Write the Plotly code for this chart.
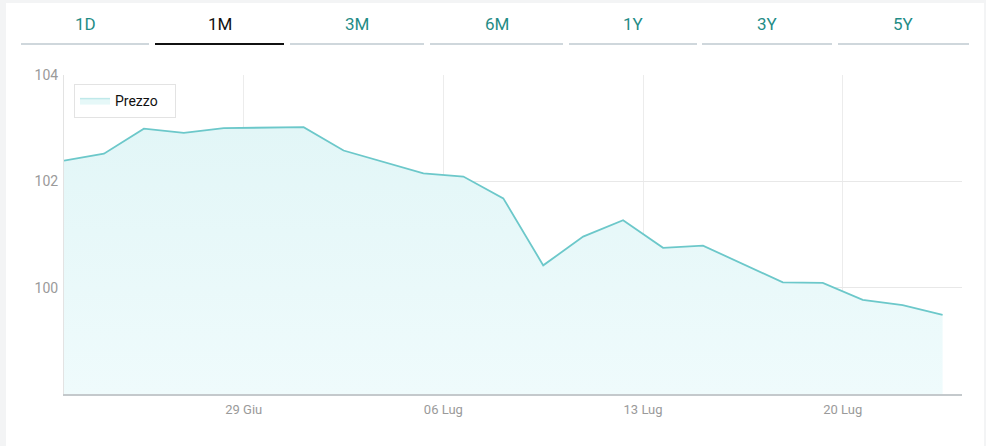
import plotly.graph_objects as go
import pandas as pd

# ---- data ----
dates = pd.bdate_range("2020-06-22", "2020-07-22") + pd.Timedelta(hours=12)
prices = [102.39, 102.52, 102.99, 102.91, 103.00, 103.01, 103.02, 102.58, 102.37,
          102.15, 102.09, 101.68, 100.42, 100.96, 101.27, 100.75, 100.79, 100.45,
          100.10, 100.09, 99.77, 99.67, 99.49]
tick_vals = ["2020-06-29", "2020-07-06", "2020-07-13", "2020-07-20"]
tick_text = ["29 Giu", "06 Lug", "13 Lug", "20 Lug"]
tabs = ["1D", "1M", "3M", "6M", "1Y", "3Y", "5Y"]
active_tab = "1M"
series_name = "Prezzo"
y_min, y_max = 98, 104

# ---- layout geometry (pixels) ----
W, H = 986, 446
L, R, T, B = 64, 24, 75, 52
pw, ph = W - L - R, H - T - B


def px(x):
    return (x - L) / pw


def py(y):
    return (H - B - y) / ph


LINE = "#6cc8ca"
f_bottom = y_min / max(prices)

fig = go.Figure()
fig.add_trace(go.Scatter(
    x=list(dates), y=prices, name=series_name, mode="lines",
    line=dict(color=LINE, width=1.8),
    fill="tozeroy",
    fillgradient=dict(type="vertical",
                      colorscale=[[0, "#effbfc"], [f_bottom, "#effbfc"], [1, "#e2f6f7"]]),
    showlegend=False,
))
# legend entry (style only)
fig.add_trace(go.Scatter(
    x=[None], y=[None], name=series_name, mode="lines",
    line=dict(color="#bfe9ea", width=1.5),
    fill="tozeroy", fillcolor="#e6f8f8",
    showlegend=True, hoverinfo="skip",
))

shapes = [
    # white card
    dict(type="rect", xref="paper", yref="paper", x0=px(6), x1=px(984), y0=py(3), y1=py(460),
         fillcolor="white", line=dict(width=0), layer="below"),
]
annotations = []
tab_edges = [(21, 149), (155, 284), (290, 424), (430, 563), (569, 697), (702, 832), (838, 969)]
for name, (a, b) in zip(tabs, tab_edges):
    active = name == active_tab
    shapes.append(dict(type="line", xref="paper", yref="paper", x0=px(a), x1=px(b),
                       y0=py(44), y1=py(44),
                       line=dict(color="#111111" if active else "#cfd7dc", width=2)))
    annotations.append(dict(x=px((a + b) / 2), y=py(24), xref="paper", yref="paper",
                            text=name, showarrow=False, xanchor="center", yanchor="middle",
                            font=dict(family="Roboto", size=17,
                                      color="#111111" if active else "#1f8c86")))

fig.update_layout(
    width=W, height=H,
    margin=dict(l=L, r=R, t=T, b=B),
    paper_bgcolor="#f3f4f5",
    plot_bgcolor="white",
    shapes=shapes,
    annotations=annotations,
    showlegend=True,
    legend=dict(x=px(74), y=py(84), xanchor="left", yanchor="top",
                orientation="h", entrywidth=55, entrywidthmode="pixels",
                bgcolor="white", bordercolor="#e3e3e3", borderwidth=1,
                font=dict(family="Roboto", size=14, color="#111111"),
                itemwidth=30),
    xaxis=dict(
        type="date",
        range=[dates[0], pd.Timestamp("2020-07-22 23:40")],
        rangebreaks=[dict(bounds=["sat", "mon"])],
        tickvals=tick_vals, ticktext=tick_text,
        showgrid=True, gridcolor="#ececec", gridwidth=1,
        showline=True, linecolor="#c4c9cc", linewidth=1.5,
        ticks="", ticklabelstandoff=3,
        tickfont=dict(family="Roboto", size=13, color="#9a9a9a"),
        zeroline=False,
    ),
    yaxis=dict(
        range=[y_min, y_max], tickvals=[100, 102, 104],
        showgrid=True, gridcolor="#e8e8e8", gridwidth=1,
        showline=True, linecolor="#e3e3e3", linewidth=1,
        ticks="", ticklabelstandoff=2,
        tickfont=dict(family="Roboto", size=14, color="#9a9a9a"),
        zeroline=False,
    ),
    hovermode="x",
)

fig.write_html("out.html")
